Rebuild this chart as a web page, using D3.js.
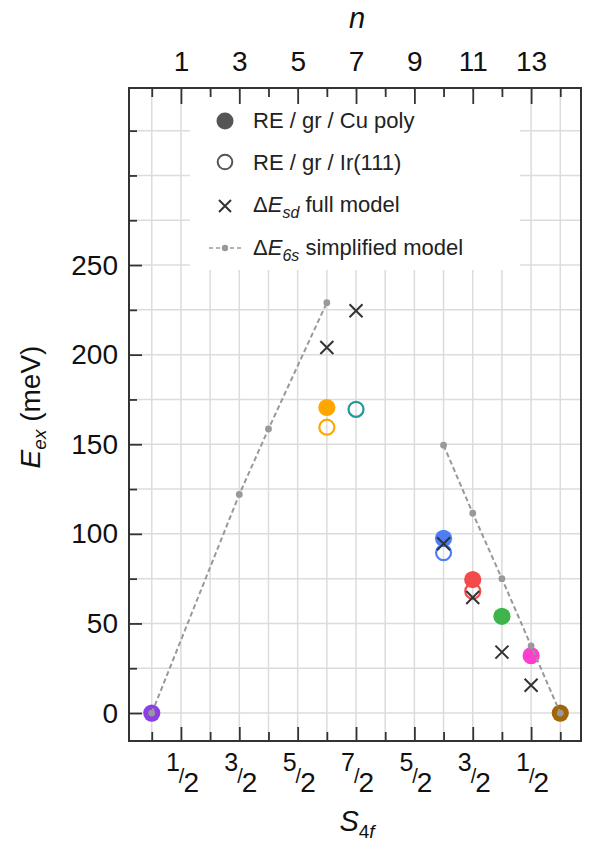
<!DOCTYPE html>
<html>
<head>
<meta charset="utf-8">
<script src="https://d3js.org/d3.v7.min.js"></script>
<style>
  body { margin: 0; background: #fff; }
  svg { font-family: "Liberation Sans", Arial, Helvetica, sans-serif; }
</style>
</head>
<body>
<div id="chart"></div>
<script>
// ---- data ----
var nTicks = [0, 1, 2, 3, 4, 5, 6, 7, 8, 9, 10, 11, 12, 13, 14];
var topLabels = [1, 3, 5, 7, 9, 11, 13];
var spinNum = ["1", "3", "5", "7", "5", "3", "1"];   // S4f = num/2 at topLabels
var yTicks = [0, 25, 50, 75, 100, 125, 150, 175, 200, 225, 250, 275, 300, 325];
var yLabels = [0, 50, 100, 150, 200, 250];

// RE / gr / Cu poly (filled)
var cuN = [0, 6, 10, 11, 12, 13, 14];
var cuE = [0, 170.5, 97.5, 74.5, 54, 32, 0];
var cuColor = ["#8b3fe6", "#ffa600", "#4f7ef2", "#f44a4a", "#3db54b", "#ff3ecf", "#a0660a"];

// RE / gr / Ir(111) (open)
var irN = [6, 7, 10, 11];
var irE = [159.5, 169.5, 89.5, 68];
var irColor = ["#ffa600", "#1f9a96", "#4f7ef2", "#f44a4a"];

// dE_sd full model (crosses)
var sdN = [6, 7, 10, 11, 12, 13];
var sdE = [204, 224.5, 94.5, 64.5, 34, 15.5];

// dE_6s simplified model (dashed, two branches)
var s6N1 = [0, 3, 4, 6];
var s6E1 = [0, 122, 158.5, 229];
var s6N2 = [10, 11, 12, 13, 14];
var s6E2 = [149.5, 111.5, 75, 37.5, 0];

var W = 590, H = 844;
var svg = d3.select("#chart").append("svg").attr("width", W).attr("height", H);

var x = d3.scaleLinear().domain([-0.78, 14.71]).range([129, 581]);
var y = d3.scaleLinear().domain([-15.6, 348.8]).range([741, 88]);

var gridC = "#dcdcdc", axisC = "#333";

// grid
svg.append("g").selectAll("line").data(nTicks).join("line")
  .attr("x1", d => x(d)).attr("x2", d => x(d))
  .attr("y1", y.range()[1]).attr("y2", y.range()[0])
  .attr("stroke", gridC).attr("stroke-width", 1.5);
svg.append("g").selectAll("line").data(yTicks).join("line")
  .attr("x1", x.range()[0]).attr("x2", x.range()[1])
  .attr("y1", d => y(d)).attr("y2", d => y(d))
  .attr("stroke", gridC).attr("stroke-width", 1.5);

// legend background
svg.append("rect").attr("x", 190).attr("y", 92).attr("width", 330).attr("height", 178)
  .attr("fill", "#fff");

// axes
function styleAxis(g) {
  g.select(".domain").remove();
  g.attr("font-size", 28).attr("font-family", null);
  g.selectAll("line").attr("stroke", axisC).attr("stroke-width", 1.8);
  g.selectAll("text").attr("fill", "#111");
}

var gl = svg.append("g").attr("transform", "translate(" + x.range()[0] + ",0)")
  .call(d3.axisLeft(y).tickValues(yTicks).tickSize(-8).tickSizeOuter(0).tickPadding(11)
    .tickFormat(d => yLabels.indexOf(d) >= 0 ? d : ""))
  .call(styleAxis);
gl.selectAll(".tick line").filter(d => yLabels.indexOf(d) >= 0).attr("x2", 13);

var gt = svg.append("g").attr("transform", "translate(0," + y.range()[1] + ")")
  .call(d3.axisTop(x).tickValues(nTicks).tickSize(-9).tickSizeOuter(0).tickPadding(17)
    .tickFormat(d => topLabels.indexOf(d) >= 0 ? d : ""))
  .call(styleAxis);
gt.selectAll(".tick line").filter(d => topLabels.indexOf(d) >= 0).attr("y2", 16);

var gb = svg.append("g").attr("transform", "translate(0," + y.range()[0] + ")")
  .call(d3.axisBottom(x).tickValues(nTicks).tickSize(-9).tickSizeOuter(0).tickFormat(""))
  .call(styleAxis);
gb.selectAll(".tick line").filter(d => topLabels.indexOf(d) >= 0).attr("y2", -14);

// fraction labels on bottom axis (one text each: num / 2)
var fr = svg.append("g").attr("fill", "#111").selectAll("text").data(topLabels).join("text")
  .attr("x", d => x(d) - 15).attr("y", 771);
fr.append("tspan").attr("font-size", 25).text((d, i) => spinNum[i]);
fr.append("tspan").attr("font-size", 20).attr("dx", -1).attr("dy", 12).text("/");
fr.append("tspan").attr("font-size", 28).attr("dx", -1).attr("dy", 9).text("2");

// frame
svg.append("rect")
  .attr("x", x.range()[0]).attr("y", y.range()[1])
  .attr("width", x.range()[1] - x.range()[0]).attr("height", y.range()[0] - y.range()[1])
  .attr("fill", "none").attr("stroke", axisC).attr("stroke-width", 2);

// axis titles
svg.append("text").attr("x", 357).attr("y", 28).attr("text-anchor", "middle")
  .attr("font-size", 29).attr("font-style", "italic").attr("fill", "#111").text("n");

var st = svg.append("text").attr("x", 357).attr("y", 831).attr("text-anchor", "middle")
  .attr("font-size", 29).attr("fill", "#111");
st.append("tspan").attr("font-style", "italic").text("S");
st.append("tspan").attr("font-size", 19).attr("dy", 7).text("4");
st.append("tspan").attr("font-size", 19).attr("font-style", "italic").text("f");

var yt = svg.append("text").attr("transform", "translate(40,407) rotate(-90)")
  .attr("text-anchor", "middle").attr("font-size", 28).attr("fill", "#111");
yt.append("tspan").attr("font-style", "italic").text("E");
yt.append("tspan").attr("font-style", "italic").attr("font-size", 19).attr("dy", 6).text("ex");
yt.append("tspan").attr("dy", -6).text(" (meV)");

// filled markers
svg.append("g").selectAll("circle").data(cuN).join("circle")
  .attr("cx", d => x(d)).attr("cy", (d, i) => y(cuE[i])).attr("r", 8.6)
  .attr("fill", (d, i) => cuColor[i]);

// open markers
svg.append("g").selectAll("circle").data(irN).join("circle")
  .attr("cx", d => x(d)).attr("cy", (d, i) => y(irE[i])).attr("r", 7.5)
  .attr("fill", "none").attr("stroke", (d, i) => irColor[i]).attr("stroke-width", 2.2);

// simplified model
var line = d3.line().x(d => x(d[0])).y(d => y(d[1]));
[[s6N1, s6E1], [s6N2, s6E2]].forEach(function (s) {
  var pts = s[0].map((n, i) => [n, s[1][i]]);
  svg.append("path").datum(pts).attr("d", line).attr("fill", "none")
    .attr("stroke", "#999").attr("stroke-width", 2).attr("stroke-dasharray", "5,3");
  svg.append("g").selectAll("circle").data(pts).join("circle")
    .attr("cx", d => x(d[0])).attr("cy", d => y(d[1])).attr("r", 3.4).attr("fill", "#999");
});

// full model crosses
var cr = 6.5;
svg.append("g").selectAll("path").data(sdN).join("path")
  .attr("transform", (d, i) => "translate(" + x(d) + "," + y(sdE[i]) + ")")
  .attr("d", "M" + -cr + "," + -cr + "L" + cr + "," + cr + "M" + -cr + "," + cr + "L" + cr + "," + -cr)
  .attr("stroke", "#333").attr("stroke-width", 2).attr("fill", "none");

// legend
var lg = svg.append("g").attr("font-size", 22).attr("fill", "#222");
lg.append("circle").attr("cx", 225).attr("cy", 121).attr("r", 8.5).attr("fill", "#555");
lg.append("text").attr("x", 253).attr("y", 128).text("RE / gr / Cu poly");
lg.append("circle").attr("cx", 225).attr("cy", 162).attr("r", 7.3)
  .attr("fill", "none").attr("stroke", "#555").attr("stroke-width", 2);
lg.append("text").attr("x", 253).attr("y", 170).text("RE / gr / Ir(111)");
lg.append("path").attr("transform", "translate(225,206)")
  .attr("d", "M-6,-6L6,6M-6,6L6,-6").attr("stroke", "#333").attr("stroke-width", 2);
var t3 = lg.append("text").attr("x", 253).attr("y", 212);
t3.append("tspan").text("\u0394");
t3.append("tspan").attr("font-style", "italic").text("E");
t3.append("tspan").attr("font-style", "italic").attr("font-size", 16).attr("dy", 6).text("sd");
t3.append("tspan").attr("dy", -6).text(" full model");
lg.append("line").attr("x1", 209).attr("x2", 241).attr("y1", 248).attr("y2", 248)
  .attr("stroke", "#999").attr("stroke-width", 1.6).attr("stroke-dasharray", "4,3");
lg.append("circle").attr("cx", 225).attr("cy", 248).attr("r", 3.2).attr("fill", "#999");
var t4 = lg.append("text").attr("x", 253).attr("y", 255);
t4.append("tspan").text("\u0394");
t4.append("tspan").attr("font-style", "italic").text("E");
t4.append("tspan").attr("font-style", "italic").attr("font-size", 16).attr("dy", 6).text("6s");
t4.append("tspan").attr("dy", -6).text(" simplified model");
</script>
</body>
</html>
